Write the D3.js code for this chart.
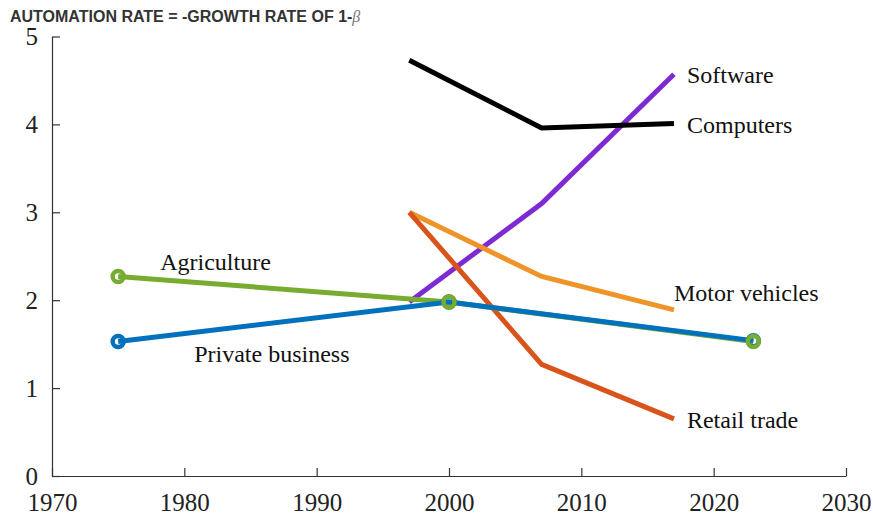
<!DOCTYPE html>
<html lang="en">
<head>
<meta charset="utf-8">
<script src="https://d3js.org/d3.v7.min.js"></script>
<style>
  body { margin: 0; background: #fff; }
  svg text.lbl, svg .tick text { font-family: 'Liberation Serif', 'Times New Roman', Times, serif; }
  .lbl { font-size: 24px; fill: #111; }
</style>
</head>
<body>
<div id="chart"></div>
<script>
// years for the detailed sectors and for the broad series
var sectorYears = [1997, 2007, 2017];
var broadYears = [1975, 2000, 2023];

// automation rate, percent per year
var computers = [4.73, 3.96, 4.01];
var software = [1.98, 3.10, 4.57];
var motorVehicles = [3.00, 2.27, 1.89];
var retailTrade = [3.00, 1.27, 0.65];
var agriculture = [2.27, 1.98, 1.53];
var privateBusiness = [1.53, 1.98, 1.54];

var xTicks = [1970, 1980, 1990, 2000, 2010, 2020, 2030];
var yTicks = [0, 1, 2, 3, 4, 5];

var width = 873, height = 520;
var margin = {top: 36.5, right: 27, bottom: 44, left: 52};
var serif = "'Liberation Serif', 'Times New Roman', Times, serif";

var svg = d3.select("#chart").append("svg")
    .attr("width", width)
    .attr("height", height);

var x = d3.scaleLinear().domain([1970, 2030]).range([margin.left, width - margin.right]);
var y = d3.scaleLinear().domain([0, 5]).range([height - margin.bottom, margin.top]);

// title
var title = svg.append("text")
    .attr("x", 10).attr("y", 22)
    .style("font-family", "'Liberation Sans', Arial, sans-serif")
    .style("font-size", "16px")
    .style("font-weight", "bold")
    .style("fill", "#333");
title.append("tspan").text("AUTOMATION RATE = -GROWTH RATE OF 1-");
title.append("tspan").text("\u03B2")
    .style("font-family", serif)
    .style("font-style", "italic")
    .style("font-weight", "normal")
    .style("fill", "#777");

// axes, ticks pointing inward
var xAxis = svg.append("g")
    .attr("transform", "translate(0," + y(0) + ")")
    .call(d3.axisBottom(x).tickValues(xTicks).tickFormat(d3.format("d")).tickSizeInner(-8).tickSizeOuter(0).tickPadding(12));

var yAxis = svg.append("g")
    .attr("transform", "translate(" + x(1970) + ",0)")
    .call(d3.axisLeft(y).tickValues(yTicks).tickFormat(d3.format("d")).tickSizeInner(-8).tickSizeOuter(0).tickPadding(14));

[xAxis, yAxis].forEach(function(g) {
  g.attr("font-family", null).attr("font-size", null);
  g.selectAll(".domain, .tick line").attr("stroke", "#333").attr("stroke-width", 1.2);
  g.selectAll(".tick text")
      .style("font-family", serif)
      .style("font-size", "25px")
      .attr("fill", "#222");
});
xAxis.selectAll(".tick text").attr("dy", "0.9em");
yAxis.selectAll(".tick text").attr("dy", "0.32em");

// series: drawn in this order
var series = [
  {name: "Software", years: sectorYears, vals: software, color: "#7D2AD2", dx: 13, dy: 9},
  {name: "Motor vehicles", years: sectorYears, vals: motorVehicles, color: "#EE9428", dx: 0, dy: -9},
  {name: "Retail trade", years: sectorYears, vals: retailTrade, color: "#D9541A", dx: 13, dy: 9},
  {name: "Computers", years: sectorYears, vals: computers, color: "#000000", dx: 13, dy: 9},
  {name: "Agriculture", years: broadYears, vals: agriculture, color: "#77AC30", dx: 42, dy: -6, first: true},
  {name: "Private business", years: broadYears, vals: privateBusiness, color: "#0072BD", dx: 76, dy: 20, first: true}
];

var line = d3.line().x(function(d) { return x(d[0]); }).y(function(d) { return y(d[1]); });

series.forEach(function(s) {
  var pts = s.years.map(function(yr, i) { return [yr, s.vals[i]]; });
  s.pts = pts;
  svg.append("path")
      .attr("d", line(pts))
      .attr("fill", "none")
      .attr("stroke", s.color)
      .attr("stroke-width", 5)
      .attr("stroke-linejoin", "miter");
});

// ring markers: private business first, agriculture on top
["Private business", "Agriculture"].forEach(function(nm) {
  var s = series.find(function(d) { return d.name === nm; });
  svg.selectAll(null).data(s.pts).enter().append("circle")
      .attr("cx", function(d) { return x(d[0]); })
      .attr("cy", function(d) { return y(d[1]); })
      .attr("r", 5.5)
      .attr("fill", "none")
      .attr("stroke", s.color)
      .attr("stroke-width", 4.5);
});

// direct labels
series.forEach(function(s) {
  var p = s.first ? s.pts[0] : s.pts[s.pts.length - 1];
  svg.append("text")
      .attr("class", "lbl")
      .style("font-family", serif)
      .attr("x", x(p[0]) + s.dx)
      .attr("y", y(p[1]) + s.dy)
      .text(s.name);
});
</script>
</body>
</html>
